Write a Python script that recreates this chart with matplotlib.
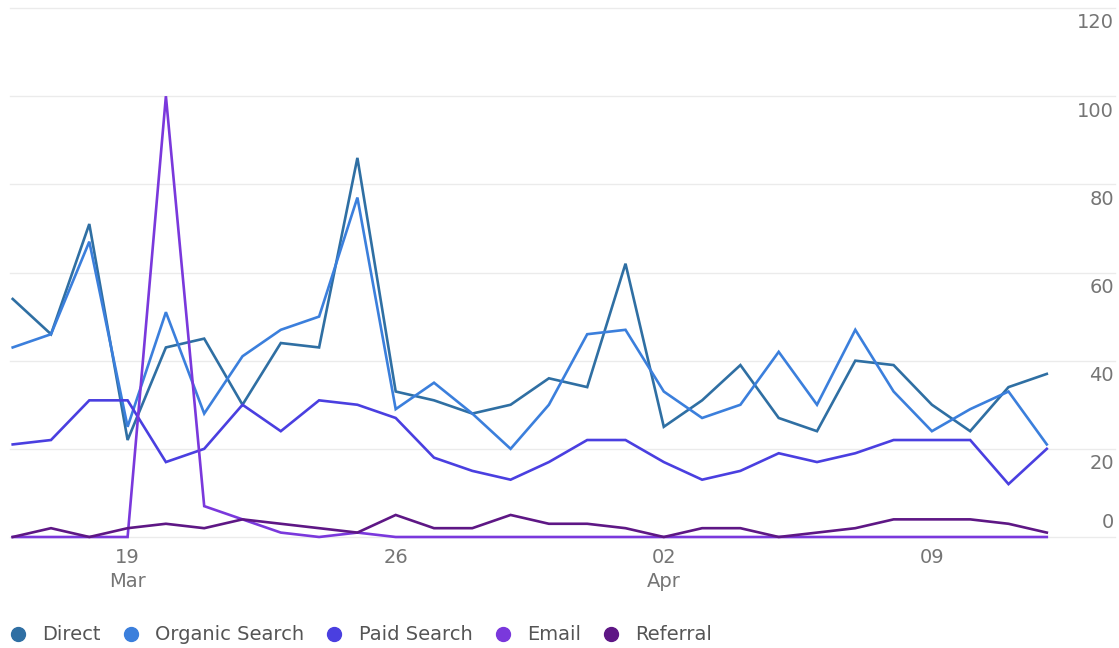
import numpy as np
import pandas as pd
import matplotlib
matplotlib.use('Agg')
import matplotlib.pyplot as plt
import matplotlib.transforms as mtransforms
from matplotlib.lines import Line2D

# daily sessions by channel, 16 Mar - 12 Apr
DATES = pd.date_range('2018-03-16', '2018-04-12', freq='D')

DIRECT   = [54, 46, 71, 22, 43, 45, 30, 44, 43, 86, 33, 31, 28, 30,
            36, 34, 62, 25, 31, 39, 27, 24, 40, 39, 30, 24, 34, 37]
ORGANIC  = [43, 46, 67, 25, 51, 28, 41, 47, 50, 77, 29, 35, 28, 20,
            30, 46, 47, 33, 27, 30, 42, 30, 47, 33, 24, 29, 33, 21]
PAID     = [21, 22, 31, 31, 17, 20, 30, 24, 31, 30, 27, 18, 15, 13,
            17, 22, 22, 17, 13, 15, 19, 17, 19, 22, 22, 22, 12, 20]
EMAIL    = [0, 0, 0, 0, 100, 7, 4, 1, 0, 1, 0, 0, 0, 0,
            0, 0, 0, 0, 0, 0, 0, 0, 0, 0, 0, 0, 0, 0]
REFERRAL = [0, 2, 0, 2, 3, 2, 4, 3, 2, 1, 5, 2, 2, 5,
            3, 3, 2, 0, 2, 2, 0, 1, 2, 4, 4, 4, 3, 1]

SERIES = [
    ('Direct',         DIRECT,   '#2f6fa3'),
    ('Organic Search', ORGANIC,  '#3b7fdc'),
    ('Paid Search',    PAID,     '#4a3fe0'),
    ('Email',          EMAIL,    '#7a38dc'),
    ('Referral',       REFERRAL, '#5e1785'),
]

Y_TICKS = [0, 20, 40, 60, 80, 100, 120]
X_TICKS = pd.to_datetime(['2018-03-19', '2018-03-26', '2018-04-02', '2018-04-09'])
X_TICK_LABELS = ['19\nMar', '26', '02\nApr', '09']

W, H = 1119, 648
fig = plt.figure(figsize=(W / 100, H / 100), dpi=100)
ax = fig.add_axes([12.7 / W, 111 / H, 1034.1 / W, 529 / H])

for y in Y_TICKS:
    ax.axhline(y, xmin=-0.003, xmax=1.066, color='#ebebeb', lw=1.0,
               clip_on=False, zorder=0)

for i, (name, vals, color) in enumerate(SERIES):
    ax.plot(DATES, vals, color=color, lw=1.9, clip_on=False,
            solid_joinstyle='miter', zorder=2 + i)

ax.set_xlim(DATES[0], DATES[-1])
ax.set_ylim(0, 120)
for s in ax.spines.values():
    s.set_visible(False)

ax.set_yticks(Y_TICKS)
ax.tick_params(axis='y', length=0, labelleft=False, labelright=False)

# right-hand value labels, sitting just under each gridline (0 sits above)
trans = mtransforms.blended_transform_factory(ax.transAxes, ax.transData)
for v in Y_TICKS:
    dy = 14 if v == 0 else -15
    off = mtransforms.ScaledTranslation(0, dy / 100, fig.dpi_scale_trans)
    ax.text(1.065, v, str(v), transform=trans + off, ha='right', va='center',
            fontsize=14, color='#757575')

ax.set_xticks(X_TICKS)
ax.set_xticklabels(X_TICK_LABELS, fontsize=14, color='#757575', linespacing=1.35)
ax.tick_params(axis='x', length=0, pad=8)

handles = [Line2D([], [], ls='none', marker='o', markersize=10,
                  markerfacecolor=c, markeredgecolor=c) for _, _, c in SERIES]
fig.legend(handles, [n for n, _, _ in SERIES], loc='center left',
           bbox_to_anchor=(11 / W, 13 / H), ncol=5, frameon=False,
           fontsize=14, labelcolor='#555555', handlelength=0.7,
           handletextpad=0.9, columnspacing=1.2, borderpad=0, borderaxespad=0)

fig.savefig('out.png', dpi=100)
